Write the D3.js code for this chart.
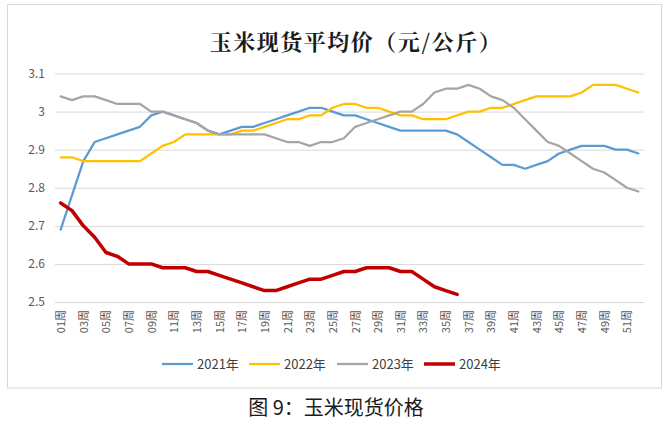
<!DOCTYPE html>
<html>
<head>
<meta charset="utf-8">
<script src="https://cdn.jsdelivr.net/npm/d3@7"></script>
<style>
  html, body { margin: 0; padding: 0; background: #fff; }
  svg { display: block; }
</style>
</head>
<body>
<svg id="chart" width="665" height="421"></svg>
<script>
const weeks = ["01周","02周","03周","04周","05周","06周","07周","08周","09周","10周",
  "11周","12周","13周","14周","15周","16周","17周","18周","19周","20周",
  "21周","22周","23周","24周","25周","26周","27周","28周","29周","30周",
  "31周","32周","33周","34周","35周","36周","37周","38周","39周","40周",
  "41周","42周","43周","44周","45周","46周","47周","48周","49周","50周",
  "51周","52周"];
const xTickLabels = ["01周","03周","05周","07周","09周","11周","13周","15周","17周","19周",
  "21周","23周","25周","27周","29周","31周","33周","35周","37周","39周",
  "41周","43周","45周","47周","49周","51周"];
const yTicks = [2.5, 2.6, 2.7, 2.8, 2.9, 3.0, 3.1];
const seriesNames = ["2021年", "2022年", "2023年", "2024年"];

const y2021 = [2.69,2.78,2.87,2.92,2.93,2.94,2.95,2.96,2.99,3.00,
  2.99,2.98,2.97,2.95,2.94,2.95,2.96,2.96,2.97,2.98,
  2.99,3.00,3.01,3.01,3.00,2.99,2.99,2.98,2.97,2.96,
  2.95,2.95,2.95,2.95,2.95,2.94,2.92,2.90,2.88,2.86,
  2.86,2.85,2.86,2.87,2.89,2.90,2.91,2.91,2.91,2.90,
  2.90,2.89];
const y2022 = [2.88,2.88,2.87,2.87,2.87,2.87,2.87,2.87,2.89,2.91,
  2.92,2.94,2.94,2.94,2.94,2.94,2.95,2.95,2.96,2.97,
  2.98,2.98,2.99,2.99,3.01,3.02,3.02,3.01,3.01,3.00,
  2.99,2.99,2.98,2.98,2.98,2.99,3.00,3.00,3.01,3.01,
  3.02,3.03,3.04,3.04,3.04,3.04,3.05,3.07,3.07,3.07,
  3.06,3.05];
const y2023 = [3.04,3.03,3.04,3.04,3.03,3.02,3.02,3.02,3.00,3.00,
  2.99,2.98,2.97,2.95,2.94,2.94,2.94,2.94,2.94,2.93,
  2.92,2.92,2.91,2.92,2.92,2.93,2.96,2.97,2.98,2.99,
  3.00,3.00,3.02,3.05,3.06,3.06,3.07,3.06,3.04,3.03,
  3.01,2.98,2.95,2.92,2.91,2.89,2.87,2.85,2.84,2.82,
  2.80,2.79];
const y2024 = [2.76,2.74,2.70,2.67,2.63,2.62,2.60,2.60,2.60,2.59,
  2.59,2.59,2.58,2.58,2.57,2.56,2.55,2.54,2.53,2.53,
  2.54,2.55,2.56,2.56,2.57,2.58,2.58,2.59,2.59,2.59,
  2.58,2.58,2.56,2.54,2.53,2.52];

const colors = ["#5B9BD5", "#FFC000", "#A5A5A5", "#C00000"];
const widths = [2.25, 2.25, 2.25, 3.5];
const allSeries = [y2021, y2022, y2023, y2024];

(function () {
const svg = d3.select("#chart");
const font = "'Noto Sans CJK SC', 'Noto Sans', sans-serif";

// outer frame
svg.append("rect").attr("x", 7.5).attr("y", 4.5).attr("width", 654).attr("height", 383.5)
  .attr("fill", "#fff").attr("stroke", "#d9d9d9").attr("stroke-width", 1);

const pLeft = 55, pRight = 644, pTop = 73.5, pBottom = 302;

const x = d3.scalePoint().domain(weeks).range([pLeft, pRight]).padding(0.5);
const y = d3.scaleLinear().domain([2.5, 3.1]).range([pBottom, pTop]);

// title
svg.append("text").attr("x", 356).attr("y", 50).attr("text-anchor", "middle")
  .attr("font-family", "'Noto Serif CJK SC', 'Noto Sans CJK SC', serif")
  .attr("font-size", 22).attr("font-weight", 700).attr("letter-spacing", 1.5)
  .attr("fill", "#1a1a1a")
  .text("玉米现货平均价（元/公斤）");

// y axis with gridlines
const yAxis = svg.append("g").attr("transform", `translate(${pLeft},0)`)
  .call(d3.axisLeft(y).tickValues(yTicks).tickSize(-(pRight - pLeft)).tickPadding(10)
    .tickFormat(d => String(+d.toFixed(1))));
yAxis.select(".domain").remove();
yAxis.selectAll(".tick line").attr("stroke", "#d9d9d9").attr("stroke-width", 1);
yAxis.selectAll(".tick text").attr("font-family", font).attr("font-size", 12)
  .attr("fill", "#595959");

// x axis
const xAxis = svg.append("g").attr("transform", `translate(0,${pBottom})`)
  .call(d3.axisBottom(x).tickValues(xTickLabels).tickSize(0));
xAxis.select(".domain").remove();
xAxis.selectAll(".tick text")
  .attr("font-family", font).attr("font-size", 11).attr("fill", "#595959")
  .attr("text-anchor", "end").attr("dy", "0.35em")
  .attr("transform", "translate(0,8) rotate(-90)")
  .attr("x", 0).attr("y", 0);

// lines
const line = d3.line().x((d, i) => x(weeks[i])).y(d => y(d));
allSeries.forEach((s, k) => {
  svg.append("path").datum(s).attr("d", line)
    .attr("fill", "none").attr("stroke", colors[k]).attr("stroke-width", widths[k])
    .attr("stroke-linejoin", "round").attr("stroke-linecap", "round");
});

// legend
const legendX = [162, 249, 337, 424];
const lg = svg.append("g");
seriesNames.forEach((n, k) => {
  lg.append("line").attr("x1", legendX[k]).attr("x2", legendX[k] + 31)
    .attr("y1", 364).attr("y2", 364)
    .attr("stroke", colors[k]).attr("stroke-width", widths[k]);
  lg.append("text").attr("x", legendX[k] + 35).attr("y", 364).attr("dy", "0.35em")
    .attr("font-family", font).attr("font-size", 13).attr("fill", "#404040").text(n);
});

// caption
svg.append("text").attr("x", 336).attr("y", 408).attr("dy", "0.35em")
  .attr("text-anchor", "middle").attr("font-family", font).attr("font-size", 20)
  .attr("fill", "#1a1a1a").text("图 9：玉米现货价格");
})();
</script>
</body>
</html>
